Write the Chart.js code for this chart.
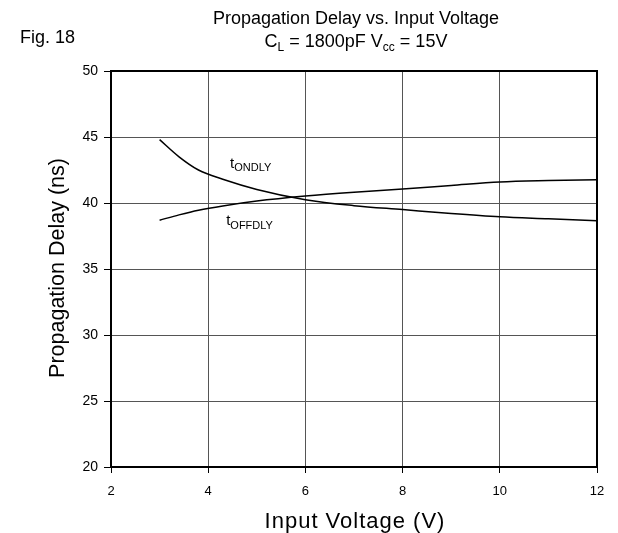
<!DOCTYPE html>
<html>
<head>
<meta charset="utf-8">
<script src="https://cdn.jsdelivr.net/npm/chart.js@4/dist/chart.umd.min.js"></script>
<style>
html,body{margin:0;padding:0;background:#fff}
#wrap{position:relative;width:618px;height:533px}
</style>
</head>
<body>
<div id="wrap"><canvas id="c" width="618" height="533"></canvas></div>
<script>
const VOLTS=[3,3.4,3.8,4.3,5,6,7,8,9,10,11,12];
const T_ON=[44.8,43.5,42.5,41.8,41.03,40.25,39.8,39.5,39.2,38.95,38.8,38.65];
const T_OFF=[38.7,39.1,39.45,39.78,40.15,40.53,40.82,41.06,41.33,41.59,41.7,41.77];
const X_TICKS=[2,4,6,8,10,12];
const Y_TICKS=[20,25,30,35,40,45,50];
const FONT='"Liberation Sans", Arial, sans-serif';

// text with a subscript part: [[text,isSub],...]
function subText(ctx,parts,x,y,size,align,ratio){
  const sub=Math.round(size*(ratio||0.65));
  let w=0;
  parts.forEach(p=>{ctx.font=(p[1]?sub:size)+'px '+FONT;w+=ctx.measureText(p[0]).width;});
  let cx=align==='center'?x-w/2:x;
  ctx.textBaseline='alphabetic';ctx.textAlign='left';
  parts.forEach(p=>{
    ctx.font=(p[1]?sub:size)+'px '+FONT;
    ctx.fillText(p[0],cx,p[1]?y+size*0.22:y);
    cx+=ctx.measureText(p[0]).width;
  });
}

const decor={
  id:'decor',
  afterDraw(chart){
    const ctx=chart.ctx,a=chart.chartArea,xs=chart.scales.x,ys=chart.scales.y;
    ctx.save();
    ctx.strokeStyle='#000';ctx.lineWidth=2;
    ctx.strokeRect(a.left,a.top,a.right-a.left,a.bottom-a.top);
    ctx.fillStyle='#000';
    ctx.font='18px '+FONT;ctx.textAlign='center';ctx.textBaseline='alphabetic';
    ctx.fillText('Propagation Delay vs. Input Voltage',356,24);
    subText(ctx,[['C',0],['L',1],[' = 1800pF V',0],['cc',1],[' = 15V',0]],356,47,18,'center');
    ctx.font='18px '+FONT;ctx.textAlign='left';
    ctx.fillText('Fig. 18',20,43);
    ctx.letterSpacing='1px';
    ctx.font='22px '+FONT;ctx.textAlign='center';
    ctx.fillText('Input Voltage (V)',355,528);
    ctx.letterSpacing='0px';
    ctx.font='21.5px '+FONT;
    ctx.translate(64,268);ctx.rotate(-Math.PI/2);
    ctx.fillText('Propagation Delay (ns)',0,0);
    ctx.restore();
    ctx.save();ctx.fillStyle='#000';
    subText(ctx,[['t',0],['ONDLY',1]],xs.getPixelForValue(4.45),ys.getPixelForValue(42.65),15,'left',0.7);
    subText(ctx,[['t',0],['OFFDLY',1]],xs.getPixelForValue(4.37),ys.getPixelForValue(38.3),15,'left',0.7);
    ctx.restore();
  }
};

new Chart(document.getElementById('c'),{
  type:'line',
  data:{datasets:[
    {label:'tONDLY',data:VOLTS.map((v,i)=>({x:v,y:T_ON[i]})),borderColor:'#000',borderWidth:1.5,pointRadius:0,cubicInterpolationMode:'monotone'},
    {label:'tOFFDLY',data:VOLTS.map((v,i)=>({x:v,y:T_OFF[i]})),borderColor:'#000',borderWidth:1.5,pointRadius:0,cubicInterpolationMode:'monotone'}
  ]},
  options:{
    responsive:false,animation:false,
    layout:{padding:{top:71,right:21,left:0,bottom:0}},
    plugins:{legend:{display:false},tooltip:{enabled:false}},
    scales:{
      x:{type:'linear',min:2,max:12,
        afterBuildTicks:s=>{s.ticks=X_TICKS.map(v=>({value:v}));},
        afterFit:s=>{s.height=66;},
        grid:{color:'#555',lineWidth:1,tickLength:6,tickColor:'#000'},
        border:{display:false},
        ticks:{color:'#000',font:{family:FONT,size:13},padding:11,maxRotation:0}},
      y:{min:20,max:50,
        afterBuildTicks:s=>{s.ticks=Y_TICKS.map(v=>({value:v}));},
        afterFit:s=>{s.width=111;},
        grid:{color:'#555',lineWidth:1,tickLength:7,tickColor:'#000'},
        border:{display:false},
        ticks:{color:'#000',font:{family:FONT,size:14},padding:6}}
    }
  },
  plugins:[decor]
});
</script>
</body>
</html>
